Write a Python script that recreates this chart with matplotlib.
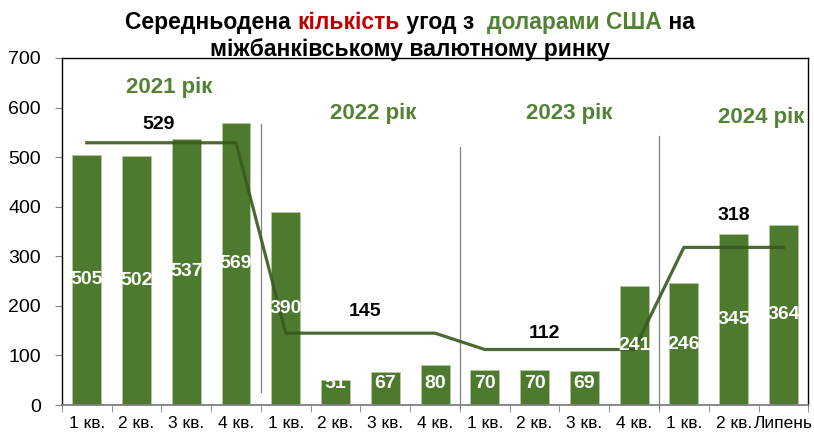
import numpy as np
import matplotlib
matplotlib.use('Agg')
import matplotlib.pyplot as plt

plt.rcParams['font.family'] = ['Liberation Sans', 'DejaVu Sans']

# data
labels = ['1 кв.', '2 кв.', '3 кв.', '4 кв.',
          '1 кв.', '2 кв.', '3 кв.', '4 кв.',
          '1 кв.', '2 кв.', '3 кв.', '4 кв.',
          '1 кв.', '2 кв.', 'Липень']
deals = [505, 502, 537, 569, 390, 51, 67, 80, 70, 70, 69, 241, 246, 345, 364]
year_avg = [529, 529, 529, 529, 145, 145, 145, 145, 112, 112, 112, 112, 318, 318, 318]
years = ['2021 рік', '2022 рік', '2023 рік', '2024 рік']
avg_labels = [529, 145, 112, 318]

bar_color = '#4e7a2f'
line_color = '#38591f'
year_color = '#548235'

fig = plt.figure(figsize=(8.14, 4.36), dpi=100)
ax = fig.add_axes([0.076, 0.071, 0.917, 0.796])

x = np.arange(len(deals))
ax.bar(x, deals, width=0.58, color=bar_color, edgecolor='#b5c9a0', linewidth=0.6, zorder=2)
ax.plot(x, year_avg, color=line_color, lw=2.3, alpha=0.9, zorder=3)

for xi, v in zip(x, deals):
    ax.text(xi, max(v / 2, 44), str(v), ha='center', va='center', color='white',
            fontsize=14, fontweight='bold', zorder=4)

# averages labels
avg_pos = [(1.45, 565), (5.6, 188), (9.2, 144), (13.0, 382)]
for (px, py), v in zip(avg_pos, avg_labels):
    ax.text(px, py, str(v), ha='center', va='center', fontsize=14, fontweight='bold', color='black')

# year labels
year_pos = [(1.65, 640), (5.75, 588), (9.7, 588), (13.55, 580)]
for (px, py), t in zip(year_pos, years):
    ax.text(px, py, t, ha='center', va='center', fontsize=16, fontweight='bold', color=year_color)

# dividers
for dx, y0, y1 in [(3.5, 26, 567), (7.5, -6, 521), (11.5, -6, 543)]:
    ax.plot([dx, dx], [y0, y1], color='#808080', lw=0.9, clip_on=False, zorder=1)

ax.set_xlim(-0.5, len(deals) - 0.5)
ax.set_ylim(0, 700)
ax.set_yticks(range(0, 701, 100))
ax.set_xticks(x)
ax.set_xticklabels(labels, fontsize=12.5)
ax.set_xticks(np.arange(-0.5, len(deals), 1), minor=True)
ax.tick_params(axis='x', which='major', length=0, pad=8)
ax.tick_params(axis='x', which='minor', length=5, color='#808080')
ax.tick_params(axis='y', labelsize=14, length=5, color='#808080', pad=10)
for s in ['top', 'right', 'left']:
    ax.spines[s].set_color('black')
    ax.spines[s].set_linewidth(1.0)
ax.spines['bottom'].set_color('#808080')
ax.spines['bottom'].set_linewidth(1.3)

# multicolor title
parts1 = [('Середньодена ', 'black'), ('кількість', '#c00000'), (' угод з  ', 'black'),
          ('доларами США', year_color), (' на', 'black')]
fig.canvas.draw()
r = fig.canvas.get_renderer()
texts = []
for t, c in parts1:
    texts.append(fig.text(0, 0, t, fontsize=16.5, fontweight='bold', color=c, va='baseline'))
widths = [tt.get_window_extent(r).width for tt in texts]
total = sum(widths)
xstart = (410 - total / 2)
ybase = 1 - 29 / 436
cur = xstart
for tt, w in zip(texts, widths):
    tt.set_position((cur / 814, ybase))
    cur += w
fig.text(410 / 814, 1 - 56 / 436, 'міжбанківському валютному ринку', fontsize=16.5,
         fontweight='bold', ha='center', va='baseline', color='black')

fig.savefig('out.png', dpi=100)
